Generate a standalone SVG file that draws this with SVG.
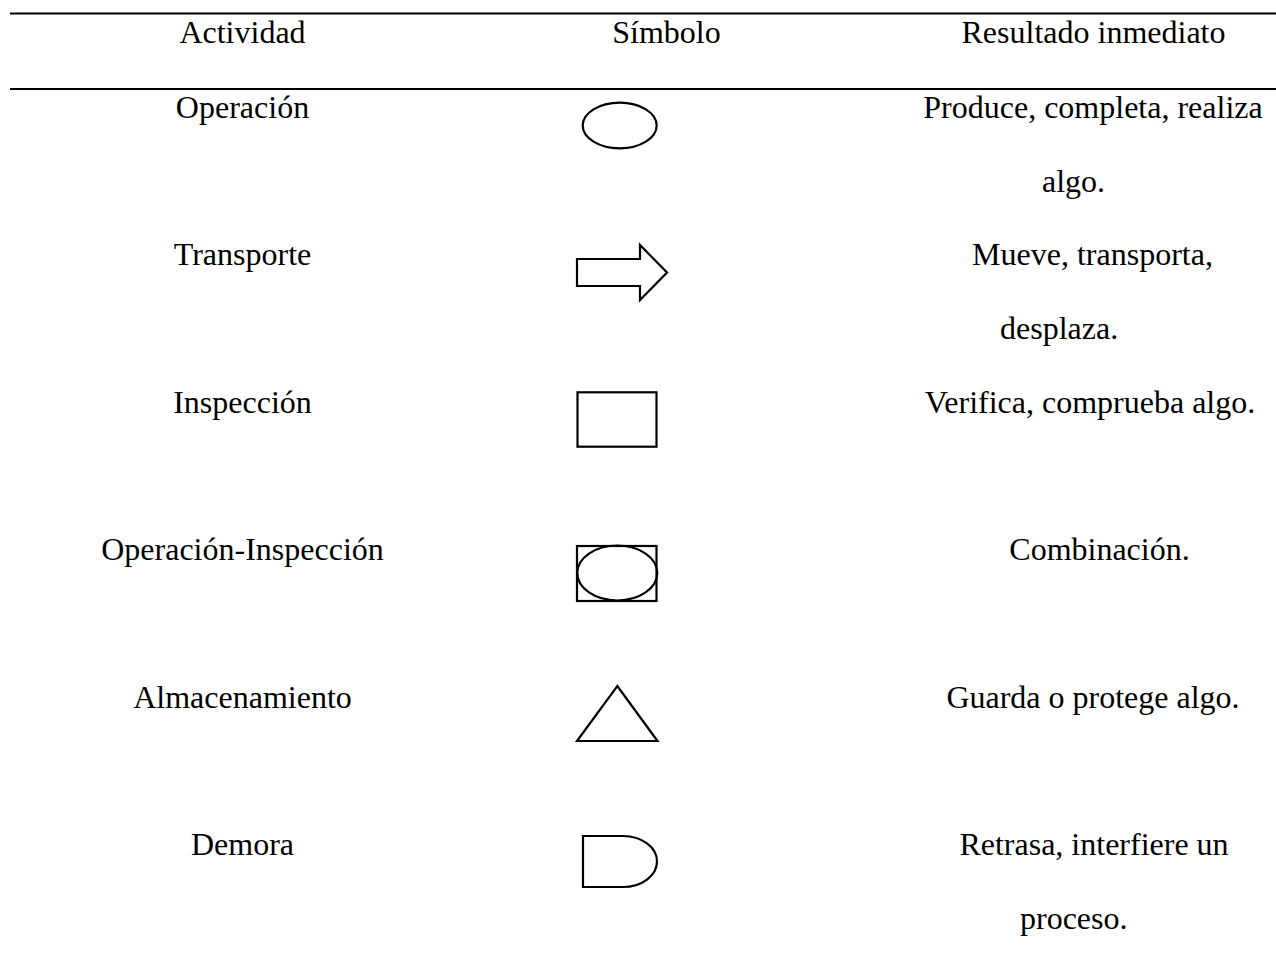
<svg xmlns="http://www.w3.org/2000/svg" width="1276" height="965" viewBox="0 0 1276 965">
  <style>
    text { font-family: "Liberation Serif", "Times New Roman", serif; font-size: 32px; fill: #000; }
    .c { text-anchor: middle; }
    .rule { stroke: #000; stroke-width: 2; }
    .sym { fill: none; stroke: #000; stroke-width: 2.2; stroke-linejoin: miter; }
  </style>
  <rect width="1276" height="965" fill="#fff"/>

  <!-- table rules -->
  <g id="rules">
    <line class="rule" x1="10" y1="13.5" x2="1276" y2="13.5"/>
    <line class="rule" x1="10" y1="89" x2="1276" y2="89"/>
  </g>

  <!-- header row -->
  <g id="header">
    <text class="c" x="242.5" y="43">Actividad</text>
    <text class="c" x="666.5" y="43">Símbolo</text>
    <text class="c" x="1093.5" y="43">Resultado inmediato</text>
  </g>

  <!-- Operación -->
  <g id="row-operacion">
    <text class="c" x="242.5" y="118">Operación</text>
    <ellipse class="sym" cx="619.7" cy="125.5" rx="37" ry="22.8"/>
    <text class="c" x="1093" y="118">Produce, completa, realiza</text>
    <text x="1042" y="192">algo.</text>
  </g>

  <!-- Transporte -->
  <g id="row-transporte">
    <text class="c" x="242.5" y="265.4">Transporte</text>
    <path class="sym" d="M577,259 H640 V245 L667,272.5 L640,300 V286 H577 Z"/>
    <text class="c" x="1092.5" y="265.4">Mueve, transporta,</text>
    <text x="1000" y="339">desplaza.</text>
  </g>

  <!-- Inspección -->
  <g id="row-inspeccion">
    <text class="c" x="242.5" y="412.8">Inspección</text>
    <rect class="sym" x="577.5" y="392.3" width="79" height="54.4"/>
    <text class="c" x="1090" y="412.8">Verifica, comprueba algo.</text>
  </g>

  <!-- Operación-Inspección -->
  <g id="row-operacion-inspeccion">
    <text class="c" x="242.5" y="560.2">Operación-Inspección</text>
    <rect class="sym" x="577" y="546" width="79.5" height="55"/>
    <ellipse class="sym" cx="617.3" cy="573" rx="40" ry="27.5"/>
    <text class="c" x="1099.5" y="560.2">Combinación.</text>
  </g>

  <!-- Almacenamiento -->
  <g id="row-almacenamiento">
    <text class="c" x="242.5" y="707.6">Almacenamiento</text>
    <path class="sym" d="M617.3,686 L657.5,741 L577,741 Z"/>
    <text class="c" x="1093" y="707.6">Guarda o protege algo.</text>
  </g>

  <!-- Demora -->
  <g id="row-demora">
    <text class="c" x="242.5" y="855">Demora</text>
    <path class="sym" d="M583,836 H623 A34,25.5 0 0 1 623,887 H583 Z"/>
    <text class="c" x="1094" y="855">Retrasa, interfiere un</text>
    <text x="1020" y="928.7">proceso.</text>
  </g>
</svg>
